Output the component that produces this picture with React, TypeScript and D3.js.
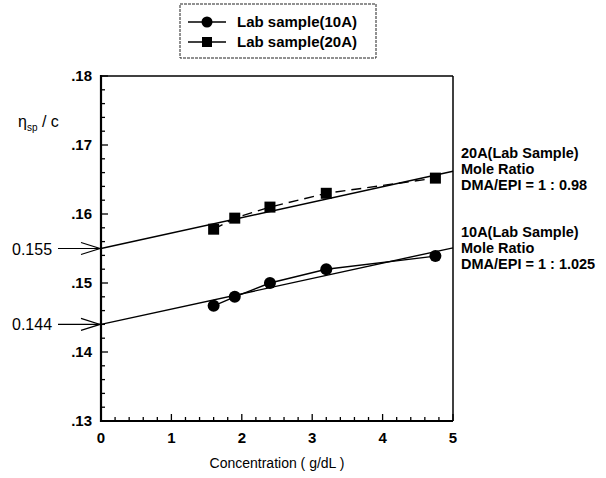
import React from "react";
import * as d3 from "d3";

const W = 606;
const H = 478;

// measured data
const conc10 = [1.6, 1.9, 2.4, 3.2, 4.75];
const eta10 = [0.1467, 0.148, 0.15, 0.152, 0.1539];
const conc20 = [1.6, 1.9, 2.4, 3.2, 4.75];
const eta20 = [0.1578, 0.1594, 0.161, 0.163, 0.1652];

// fitted lines (x, y) endpoints
const fitX = [0, 5];
const fit10 = [0.144, 0.1551];
const fit20 = [0.155, 0.1662];

const xTicks = [0, 1, 2, 3, 4, 5];
const yTicks = [0.13, 0.14, 0.15, 0.16, 0.17, 0.18];
const yTickLabels = [".13", ".14", ".15", ".16", ".17", ".18"];
const legendLabels = ["Lab sample(10A)", "Lab sample(20A)"];
const note20 = ["20A(Lab Sample)", "Mole Ratio", "DMA/EPI = 1 : 0.98"];
const note10 = ["10A(Lab Sample)", "Mole Ratio", "DMA/EPI = 1 : 1.025"];
const intercepts = [
  { label: "0.155", v: 0.155 },
  { label: "0.144", v: 0.144 },
];

const margin = { left: 101, right: 153, top: 76, bottom: 57 };

export default function App() {
  const x = d3.scaleLinear().domain([0, 5]).range([margin.left, W - margin.right]);
  const y = d3.scaleLinear().domain([0.13, 0.18]).range([H - margin.bottom, margin.top]);

  const line = d3
    .line<[number, number]>()
    .x((d) => x(d[0]))
    .y((d) => y(d[1]));

  const pts10: [number, number][] = conc10.map((c, i) => [c, eta10[i]]);
  const pts20: [number, number][] = conc20.map((c, i) => [c, eta20[i]]);
  const f10: [number, number][] = fitX.map((c, i) => [c, fit10[i]]);
  const f20: [number, number][] = fitX.map((c, i) => [c, fit20[i]]);

  const xMinor = d3.range(0, 5.001, 0.2);
  const yMinor = d3.range(0.13, 0.1801, 0.002);

  const font = "'Liberation Sans', Arial, sans-serif";
  const x0 = x(0), x1 = x(5), yb = y(0.13), yt = y(0.18);

  return (
    <svg
      width={W}
      height={H}
      style={{ position: "absolute", left: 0, top: 0, background: "#fff" }}
      fontFamily={font}
    >
      {/* legend */}
      <rect x={180} y={4} width={196} height={54} fill="none" stroke="#222" strokeWidth={1} strokeDasharray="3 1" />
      {legendLabels.map((lab, i) => {
        const ly = 22 + i * 20;
        return (
          <g key={lab}>
            <line x1={188} x2={226} y1={ly} y2={ly} stroke="#000" strokeWidth={1.5} />
            {i === 0 ? (
              <circle cx={207} cy={ly} r={5.5} fill="#000" />
            ) : (
              <rect x={202} y={ly - 5} width={10} height={10} fill="#000" />
            )}
            <text x={237} y={ly + 5} fontSize={15} fontWeight="bold" fill="#000">{lab}</text>
          </g>
        );
      })}

      {/* y axis label */}
      <text x={18} y={127} fontSize={16} fill="#000">
        η<tspan fontSize={10} dy={4}>sp</tspan>
        <tspan dy={-4}> / c</tspan>
      </text>

      {/* minor ticks */}
      {xMinor.map((v) => (
        <line key={"xm" + v} x1={x(v)} x2={x(v)} y1={yb} y2={yb - (Math.abs(v - Math.round(v)) < 1e-6 ? 7 : 4)} stroke="#000" strokeWidth={1.3} />
      ))}
      {yMinor.map((v) => (
        <line key={"ym" + v} x1={x0} x2={x0 + (Math.abs(v * 100 - Math.round(v * 100)) < 1e-6 ? 7 : 4)} y1={y(v)} y2={y(v)} stroke="#000" strokeWidth={1.3} />
      ))}

      {/* frame */}
      <line x1={x0} x2={x1} y1={yt} y2={yt} stroke="#000" strokeWidth={1.5} />
      <line x1={x1} x2={x1} y1={yt} y2={yb} stroke="#000" strokeWidth={1.5} />
      <line x1={x0} x2={x0} y1={yt - 1} y2={yb + 1} stroke="#000" strokeWidth={2.2} />
      <line x1={x0 - 1} x2={x1} y1={yb} y2={yb} stroke="#000" strokeWidth={2.2} />

      {/* tick labels */}
      {yTicks.map((v, i) => (
        <text key={"yt" + v} x={x0 - 9} y={y(v) + 5} fontSize={15} fontWeight="bold" textAnchor="end" fill="#000">{yTickLabels[i]}</text>
      ))}
      {xTicks.map((v) => (
        <text key={"xt" + v} x={x(v)} y={yb + 22} fontSize={15} fontWeight="bold" textAnchor="middle" fill="#000">{v}</text>
      ))}
      <text x={(x0 + x1) / 2} y={H - 10} fontSize={14} textAnchor="middle" fill="#000">Concentration ( g/dL )</text>

      {/* fit lines */}
      <path d={line(f10) ?? ""} fill="none" stroke="#000" strokeWidth={1.4} />
      <path d={line(f20) ?? ""} fill="none" stroke="#000" strokeWidth={1.4} />

      {/* data lines */}
      <path d={line(pts10) ?? ""} fill="none" stroke="#000" strokeWidth={1.4} />
      <path d={line(pts20) ?? ""} fill="none" stroke="#000" strokeWidth={1.4} strokeDasharray="10 6" />

      {pts10.map((d, i) => (
        <circle key={"c" + i} cx={x(d[0])} cy={y(d[1])} r={6} fill="#000" />
      ))}
      {pts20.map((d, i) => (
        <rect key={"s" + i} x={x(d[0]) - 5.5} y={y(d[1]) - 5.5} width={11} height={11} fill="#000" />
      ))}

      {/* intercept annotations */}
      {intercepts.map((a) => {
        const ay = y(a.v);
        return (
          <g key={a.label}>
            <text x={12} y={ay + 6} fontSize={16} fill="#000">{a.label}</text>
            <line x1={58} x2={x0 - 1} y1={ay} y2={ay} stroke="#000" strokeWidth={1.2} />
            <path d={`M${x0 - 20},${ay - 6} L${x0 - 1},${ay} L${x0 - 20},${ay + 6}`} fill="none" stroke="#000" strokeWidth={1.2} />
          </g>
        );
      })}

      {/* right annotations */}
      {note20.map((t, i) => (
        <text key={"n20" + i} x={x1 + 8} y={158 + i * 16} fontSize={14.5} fontWeight="bold" fill="#000">{t}</text>
      ))}
      {note10.map((t, i) => (
        <text key={"n10" + i} x={x1 + 8} y={237 + i * 16} fontSize={14.5} fontWeight="bold" fill="#000">{t}</text>
      ))}
    </svg>
  );
}
